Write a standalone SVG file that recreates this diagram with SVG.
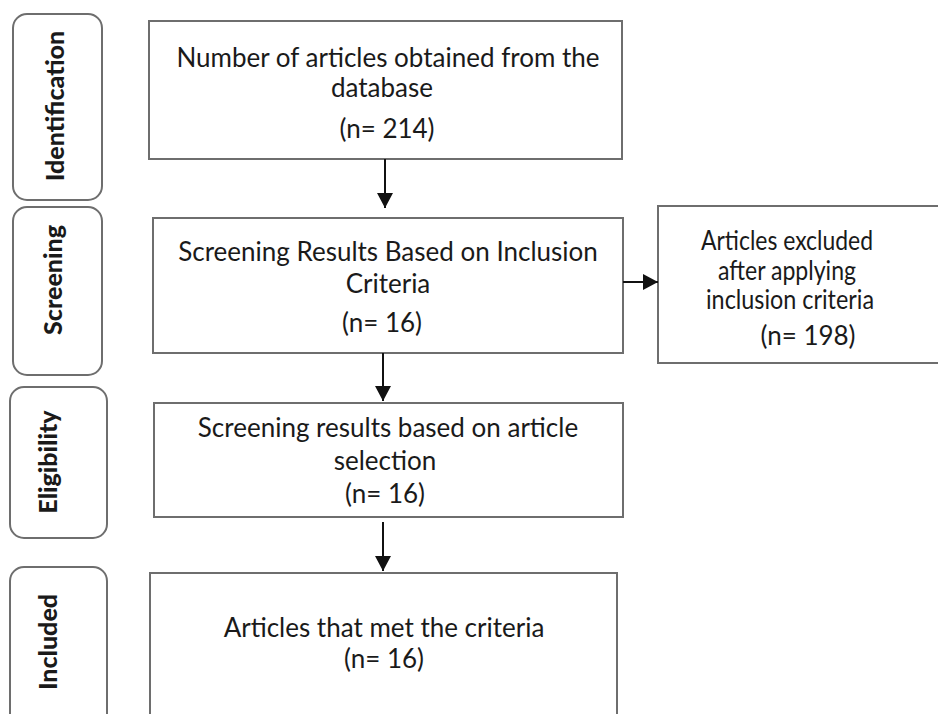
<svg xmlns="http://www.w3.org/2000/svg" width="938" height="714" viewBox="0 0 938 714">
<defs>
<style>
.stage{fill:#fff;stroke:#6e6e6e;stroke-width:2}
.box{fill:#fff;stroke:#6e6e6e;stroke-width:2}
.lbl{font-family:Lato,"Liberation Sans",sans-serif;font-weight:900;font-size:25px;fill:#1a1a1a;text-anchor:middle}
.t{font-family:Lato,"Liberation Sans",sans-serif;font-size:26px;fill:#1a1a1a;text-anchor:middle}
.conn{stroke:#111;stroke-width:2;fill:none;marker-end:url(#ah)}
</style>
<marker id="ah" markerUnits="userSpaceOnUse" markerWidth="16" markerHeight="16" refX="15" refY="8" orient="auto">
<path d="M0,0 L15,8 L0,16 Z" fill="#111"/>
</marker>
</defs>
<rect width="938" height="714" fill="#fff"/>

<g id="stage-identification">
<rect class="stage" x="13" y="14" width="89" height="186" rx="14"/>
<text class="lbl" transform="translate(64,106) rotate(-90)">Identification</text>
</g>
<g id="stage-screening">
<rect class="stage" x="13" y="207" width="89" height="168" rx="14"/>
<text class="lbl" transform="translate(62,280) rotate(-90)">Screening</text>
</g>
<g id="stage-eligibility">
<rect class="stage" x="10" y="387" width="97" height="151" rx="14"/>
<text class="lbl" transform="translate(57,462) rotate(-90)">Eligibility</text>
</g>
<g id="stage-included">
<rect class="stage" x="10" y="567" width="97" height="165" rx="14"/>
<text class="lbl" transform="translate(57,642) rotate(-90)">Included</text>
</g>

<g id="node-database">
<rect class="box" x="149" y="21" width="473" height="138"/>
<text class="t" x="388" y="67">Number of articles obtained from the</text>
<text class="t" x="382" y="97">database</text>
<text class="t" x="387" y="138">(n= 214)</text>
</g>
<g id="node-screening">
<rect class="box" x="153" y="218" width="470" height="135"/>
<text class="t" x="388" y="261">Screening Results Based on Inclusion</text>
<text class="t" x="388" y="293">Criteria</text>
<text class="t" x="382" y="332">(n= 16)</text>
</g>
<g id="node-excluded">
<rect class="box" x="658" y="206" width="290" height="157"/>
<text class="t" x="787" y="250" textLength="172" lengthAdjust="spacingAndGlyphs">Articles excluded</text>
<text class="t" x="787" y="280" textLength="138" lengthAdjust="spacingAndGlyphs">after applying</text>
<text class="t" x="790" y="309" textLength="168" lengthAdjust="spacingAndGlyphs">inclusion criteria</text>
<text class="t" x="808" y="345">(n= 198)</text>
</g>
<g id="node-eligibility">
<rect class="box" x="154" y="403" width="469" height="114"/>
<text class="t" x="388" y="437">Screening results based on article</text>
<text class="t" x="385" y="470">selection</text>
<text class="t" x="385" y="503">(n= 16)</text>
</g>
<g id="node-included">
<rect class="box" x="150" y="573" width="467" height="160"/>
<text class="t" x="384" y="637">Articles that met the criteria</text>
<text class="t" x="384" y="668">(n= 16)</text>
</g>

<g id="connectors">
<line class="conn" x1="385" y1="159" x2="385" y2="208"/>
<line class="conn" x1="623" y1="282" x2="658" y2="282"/>
<line class="conn" x1="383" y1="353" x2="383" y2="401"/>
<line class="conn" x1="383" y1="522" x2="383" y2="571"/>
</g>
</svg>
